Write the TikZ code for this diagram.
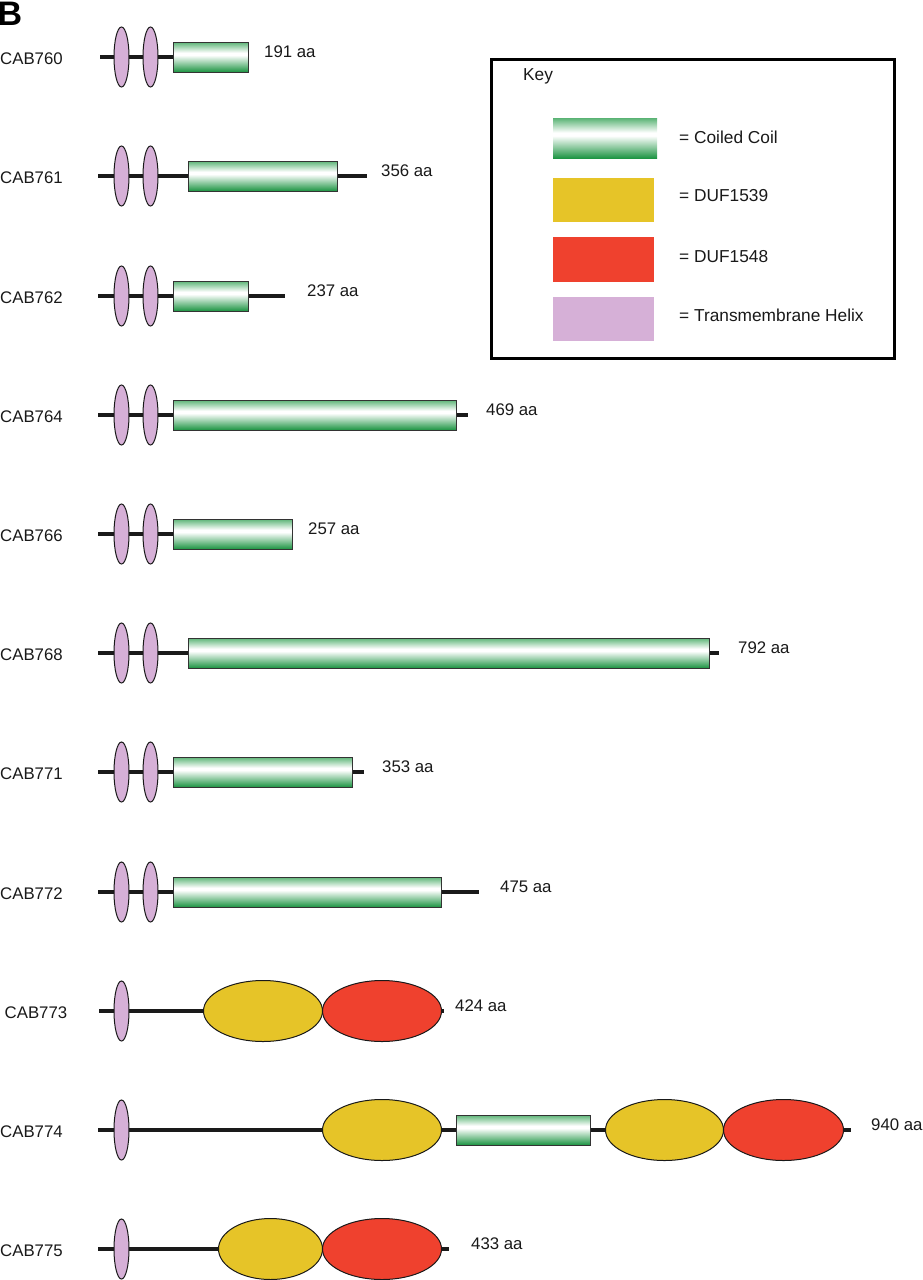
\documentclass[tikz,border=0pt]{standalone}
\usepackage{fontspec}
\setmainfont{Liberation Sans}
\usetikzlibrary{shapes.geometric}
\definecolor{cctop}{RGB}{92,180,118}
\definecolor{ccbot}{RGB}{28,148,66}
\definecolor{dufyellow}{RGB}{230,196,40}
\definecolor{dufred}{RGB}{239,65,46}
\definecolor{tmpurple}{RGB}{214,176,215}
\definecolor{bb}{RGB}{26,26,26}
\pgfdeclareverticalshading{coil}{100bp}{color(0bp)=(ccbot); color(25bp)=(ccbot); color(53bp)=(white); color(57bp)=(white); color(75bp)=(cctop); color(100bp)=(cctop)}
\tikzset{
  lbl/.style={inner sep=0pt, font=\fontsize{16.8}{19}\selectfont, text=black!90},
  keylbl/.style={inner sep=0pt, font=\fontsize{17.3}{20}\selectfont, text=black!90},
  backbone/.style={draw=bb, line width=4.8pt},
  tm/.style={ellipse, draw=black!90, line width=1pt, fill=tmpurple, minimum width=15pt, minimum height=60pt, inner sep=0pt},
  ccbox/.style={rectangle, draw=black!80, line width=1pt, shading=coil, minimum height=30pt, inner sep=0pt, anchor=west},
  duf/.style={ellipse, draw=black!90, line width=1pt, minimum height=61pt, inner sep=0pt, anchor=west},
  swatch/.style={rectangle, inner sep=0pt, anchor=north west, minimum height=44pt},
}
\begin{document}
\begin{tikzpicture}[x=1pt, y=-1pt]
\useasboundingbox (0,0) rectangle (923,1280);
\node[anchor=base west, inner sep=0pt, font=\fontsize{34}{36}\selectfont\bfseries] (title) at (-2.5,25) {B};
% coiled-coil rows
\foreach \i/\y/\nm/\ls/\le/\bl/\br/\lab/\lx in {
  1/57/CAB760/100/249/173/248/191 aa/264,
  2/176/CAB761/98/367/188/337/356 aa/381,
  3/296/CAB762/98/285/173/248/237 aa/307,
  4/415/CAB764/98/468/173/456/469 aa/486,
  5/534/CAB766/98/293/173/292/257 aa/308,
  6/653/CAB768/98/719/188/709/792 aa/738,
  7/772/CAB771/98/364/173/352/353 aa/382,
  8/892/CAB772/98/479/173/441/475 aa/500}{
  \node[lbl, anchor=base west] (name\i) at (0,\y+7.5) {\nm};
  \coordinate (s\i) at (\ls,\y);
  \coordinate (e\i) at (\le,\y);
  \draw[backbone] (s\i) -- (e\i);
  \node[tm] (tma\i) at (121.5,\y) {};
  \node[tm] (tmb\i) at (150.5,\y) {};
  \node[ccbox, minimum width={(\br-\bl)*1pt}] (cc\i) at (\bl,\y) {};
  \node[lbl, anchor=base west] (len\i) at (\lx,\y) {\lab};
}
% CAB773
\node[lbl, anchor=base west] (name9) at (4.5,1018.5) {CAB773};
\coordinate (s9) at (99,1011);
\coordinate (e9) at (444,1011);
\draw[backbone] (s9) -- (e9);
\node[tm] (tma9) at (121.5,1011) {};
\node[duf, fill=dufyellow, minimum width=119pt] (y9) at (203,1011) {};
\node[duf, fill=dufred, minimum width=119pt] (r9) at (322,1011) {};
\node[lbl, anchor=base west] (len9) at (455,1011) {424 aa};
% CAB774
\node[lbl, anchor=base west] (name10) at (0,1137.5) {CAB774};
\coordinate (s10) at (98,1130);
\coordinate (e10) at (851,1130);
\draw[backbone] (s10) -- (e10);
\node[tm] (tma10) at (121.5,1130) {};
\node[duf, fill=dufyellow, minimum width=119pt] (ya10) at (322,1130) {};
\node[ccbox, minimum width=134pt] (cc10) at (456,1130) {};
\node[duf, fill=dufyellow, minimum width=118pt] (yb10) at (605,1130) {};
\node[duf, fill=dufred, minimum width=120pt] (r10) at (723,1130) {};
\node[lbl, anchor=base west] (len10) at (871,1130) {940 aa};
% CAB775
\node[lbl, anchor=base west] (name11) at (0,1256.5) {CAB775};
\coordinate (s11) at (98,1249);
\coordinate (e11) at (449,1249);
\draw[backbone] (s11) -- (e11);
\node[tm] (tma11) at (121.5,1249) {};
\node[duf, fill=dufyellow, minimum width=104pt] (y11) at (218,1249) {};
\node[duf, fill=dufred, minimum width=119pt] (r11) at (322,1249) {};
\node[lbl, anchor=base west] (len11) at (471,1249) {433 aa};
% Key
\node[draw=black, line width=3pt, rectangle, inner sep=0pt, anchor=north west, minimum width=403pt, minimum height=299pt] (key) at (490,57.5) {};
\node[keylbl, anchor=base west] (keyt) at (523,80) {Key};
\node[swatch, shading=coil, minimum width=104pt, minimum height=40pt] (k1) at (553,118) {};
\node[swatch, fill=dufyellow, minimum width=101pt] (k2) at (553,178) {};
\node[swatch, fill=dufred, minimum width=101pt, minimum height=45pt] (k3) at (553,237) {};
\node[swatch, fill=tmpurple, minimum width=101pt] (k4) at (553,297) {};
\node[keylbl, anchor=base west] (kl1) at (679,143) {= Coiled Coil};
\node[keylbl, anchor=base west] (kl2) at (679,201) {= DUF1539};
\node[keylbl, anchor=base west] (kl3) at (679,262) {= DUF1548};
\node[keylbl, anchor=base west] (kl4) at (679,321) {= Transmembrane Helix};
\end{tikzpicture}
\end{document}
